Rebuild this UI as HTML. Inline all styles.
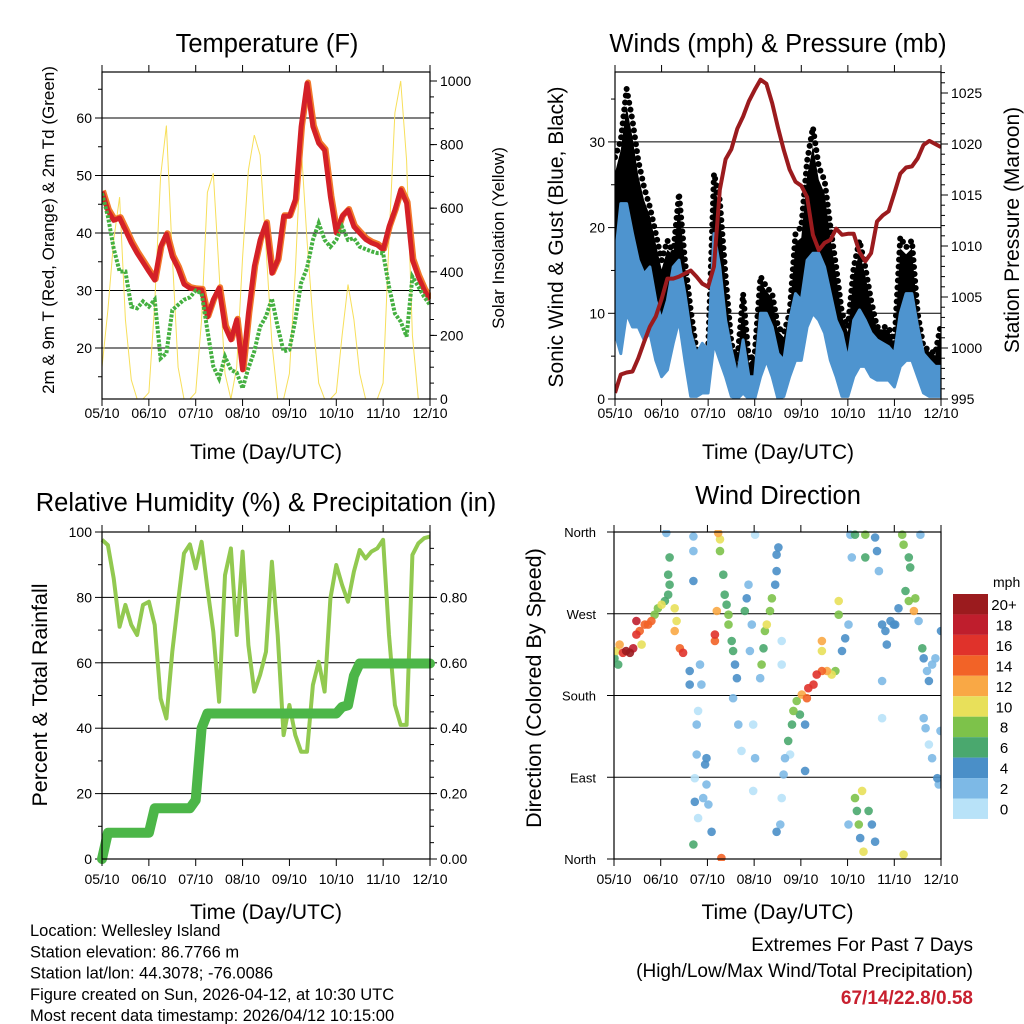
<!DOCTYPE html>
<html><head><meta charset="utf-8">
<style>
html,body{margin:0;padding:0;background:#fff;}
svg{display:block;font-family:"Liberation Sans",Arial,sans-serif;}
</style></head>
<body>
<svg id="c" width="1024" height="1024" viewBox="0 0 1024 1024" xmlns="http://www.w3.org/2000/svg"></svg>
<script>
// ---------- DATA (3-hour samples, 0.125 day step, day 0 = 05/10) ----------
const dayTicks = ["05/10","06/10","07/10","08/10","09/10","10/10","11/10","12/10"];
const tempRed = [47.2,43.9,42.2,42.6,40.5,38.3,36.5,34.9,33.3,31.8,37.6,39.8,35.9,33.9,31.1,30.4,30.2,30.1,25.4,28.4,30.4,23.7,21.4,24.9,16.2,26.0,34.2,38.8,41.7,33.0,35.3,42.9,42.9,45.8,58.5,66.0,58.5,55.6,54.4,46.3,40.0,42.9,44.0,41.1,40.0,38.9,38.3,37.9,37.1,41.1,44.0,47.5,45.2,35.3,32.4,30.1,28.4];
const dewGreen = [46.9,42.9,37.3,33.3,33.3,27.2,26.9,28.1,27.2,28.4,18.2,19.1,26.6,27.5,28.4,28.8,30.0,29.5,23.1,16.8,14.7,18.5,16.2,15.7,13.0,16.5,19.4,23.7,25.5,28.6,23.7,19.4,19.7,24.9,31.3,33.9,38.8,41.7,38.8,37.6,38.8,41.1,38.8,39.1,37.6,37.2,36.8,36.5,36.5,30.7,26.0,24.6,22.0,32.4,30.7,28.9,27.5];
const solar = [100,280,500,635,250,60,0,0, 20,300,700,860,450,100,0,0, 20,250,650,710,400,80,0,100, 446,720,830,767,477,176,0,0, 80,400,800,500,250,50,0,0, 20,200,360,250,80,0,0,0, 50,500,900,1000,750,200,0,0, 0];
const pressure = [995.6,997.4,997.6,997.7,999.0,1000.6,1002.1,1003.1,1004.8,1006.8,1006.8,1007.0,1007.3,1007.6,1007.0,1006.3,1006.0,1008.0,1015.5,1018.5,1019.5,1021.5,1022.7,1024.2,1025.3,1026.3,1025.9,1024.0,1021.6,1019.4,1017.5,1016.3,1015.9,1014.8,1011.1,1009.6,1010.3,1010.6,1011.7,1011.1,1011.2,1011.2,1009.4,1008.5,1009.3,1012.4,1013.0,1013.4,1015.2,1017.1,1017.7,1017.8,1018.6,1019.9,1020.3,1020.0,1019.7];
const windHi = [16.2,22.8,22.8,19.3,16.2,14.6,15.4,11.5,9.2,11.5,15.4,16.2,12.3,7.7,5.3,6.5,5.7,19.3,15.4,9.2,5.7,2.6,6.9,2.6,2.6,10,10,8.4,5.3,4.5,9.2,12.3,11.5,16.2,17,17,15.4,12.3,9.2,7.7,4.5,9.2,10.4,9.2,7.7,6.9,6.5,6.1,5.3,10,12.3,12.3,8.4,5.3,4.5,3.8,3.8];
const windLo = [7.7,5.3,10,8.4,8.4,6.9,7.7,4.5,2.6,3.4,6.5,9.2,4.5,0.3,0.3,0.7,0.7,6.5,4.5,2.6,0.3,0,0.7,0,0,2.6,4.5,2.6,0,0.3,2.6,4.5,4.5,8.4,10,9.2,7.7,4.5,2.6,0.3,0.3,2.6,3.8,3.8,2.6,2.2,2.2,2.2,1.4,3.8,4.5,4.5,2.6,0.7,0.3,0.3,0.3];
const gustHi = [28.2,30.2,36.2,32.5,27.8,24.7,22.4,19.3,16.2,18.5,17.0,24.0,16.2,10.4,5.7,5.3,5.7,26.3,23.2,14.3,6.5,4.5,12.3,4.5,5.3,14.3,13.1,12.3,8.4,7.7,10,19.3,20.1,27.8,31.7,27.1,25.5,20.1,15.4,10,8.4,15.4,18.5,15.4,11.5,8.4,8.4,8.4,6.5,18.9,17.7,18.5,10,6.1,5.7,5.3,8.8];
const rh = [97.6,96.0,85.8,71.0,77.7,71.6,68.5,77.7,78.7,71.6,49.1,43.0,63.4,78.7,93.5,96.2,88.9,97.0,82.8,69.5,48.1,86.8,95.0,68.5,94.0,65.4,51.2,56.3,63.4,90.9,68.5,37.9,47.1,37.9,32.8,32.8,53.2,60.3,51.2,79.7,89.9,83.8,78.7,87.9,94.5,91.9,94.0,95.0,97.6,68.5,47.1,41.0,41.0,93.0,96.5,98.1,98.6];
const precip = [0,0.08,0.08,0.08,0.08,0.08,0.08,0.08,0.08,0.155,0.155,0.155,0.155,0.155,0.155,0.155,0.18,0.40,0.445,0.445,0.445,0.445,0.445,0.445,0.445,0.445,0.445,0.445,0.445,0.445,0.445,0.445,0.445,0.445,0.445,0.445,0.445,0.445,0.445,0.445,0.445,0.465,0.47,0.56,0.598,0.598,0.598,0.598,0.598,0.598,0.598,0.598,0.598,0.598,0.598,0.598,0.598];
// wind direction obs: day, degrees, speed (mph)
const dirDays = [0.01,0.05,0.12,0.19,0.26,0.34,0.41,0.48,0.55,0.59,0.66,0.73,0.80,0.48,0.09, 0.87,0.94,1.02,1.09,1.16,1.19,1.16,1.19,1.30,1.34,1.30,1.41,1.48,1.12,1.70,1.70,1.70,
 1.62,1.62,1.84,1.87,1.80,1.77,1.77,1.73,1.73,1.70,1.95,1.98,2.02,2.09,1.98,1.91,1.80,
 2.23,2.27,2.27,2.34,2.37,2.45,2.45,2.52,2.55,2.59,2.63,2.55,2.16,2.16,2.20,2.30,2.41,
 2.80,2.84,2.88,2.95,2.91,3.02,2.98,3.02,2.98,2.73,2.66,
 3.16,3.20,3.23,3.27,3.34,3.38,3.45,3.48,3.48,3.52,3.13,3.59,3.59,3.56,3.48,
 3.59,3.63,3.66,3.73,3.81,3.84,3.91,4.02,4.13,4.16,4.27,4.34,4.45,4.56,4.66,4.74,3.77,4.09,4.09,3.98,4.45,4.45,4.81,4.81,4.88,4.95,5.02,
 5.06,5.09,5.16,5.38,5.59,5.63,5.67,5.74,5.81,5.92,5.99,5.84,5.74,5.74,5.38,
 5.16,5.20,5.24,5.27,5.34,5.45,5.52,5.59,5.02,5.31,
 6.17,6.20,6.31,6.34,6.24,6.31,6.45,6.42,6.52,6.09,6.02,6.20,6.56,
 6.60,6.63,6.70,6.74,6.81,6.88,6.67,6.74,6.81,6.92,6.95,6.99,7.0,6.63];
const dirDeg = [221,229,236,227,229,227,232,247,251,236,258,258,262,262,214, 269,276,280,284,291,302,313,332,276,262,251,232,227,359,355,339,306,
 207,192,214,192,163,148,115,89,63,16,104,82,60,30,111,67,45,
 359,352,339,313,291,269,258,240,229,214,199,177,247,240,273,1,280,
 273,287,302,258,229,357,148,111,75,119,148,
 214,232,251,258,273,287,302,317,335,343,199,240,214,38,30,
 67,93,111,130,148,163,174,181,177,188,192,203,207,207,203,207,115,148,97,159,229,240,269,284,229,243,258,
 357,332,357,357,354,339,317,258,251,262,258,236,196,155,332,
 67,53,38,23,8,53,38,19,38,75,
 357,346,332,321,295,284,287,273,262,276,258,5,357,
 232,221,207,196,214,221,144,126,111,89,82,141,251,155];
const dirSpeed = [6,10,12,16,20,20,18,16,14,10,14,14,14,18,6, 8,8,10,6,6,6,6,6,10,10,12,14,16,2,2,2,4,
 4,4,2,2,0,2,2,0,4,6,4,2,2,4,4,2,0,
 12,10,8,6,6,8,8,6,6,4,4,2,16,14,12,14,6,
 6,4,2,2,2,0,0,2,0,0,2,
 8,6,8,10,8,8,4,4,4,4,2,0,0,2,4,
 0,2,2,6,6,8,8,12,14,16,16,16,14,12,10,8,0,4,4,6,10,12,8,10,4,4,2,
 2,2,6,8,4,4,2,4,4,4,4,4,2,0,6,
 8,6,8,4,10,6,4,4,2,10,
 8,8,6,6,6,8,8,12,2,4,4,10,2,
 6,4,2,4,2,2,2,0,2,4,2,2,4,2];
const speedLabels = ["20+","18","16","14","12","10","8","6","4","2","0"];
const speedColors = ["#9b1b1e","#bf1e2d","#e0322b","#f26327","#f9a845","#e8e05a","#7dc24a","#4aa86e","#4a8fc8","#7db9e6","#b8e2f8"];

// ---------- helpers ----------
const NS="http://www.w3.org/2000/svg";
const svg=document.getElementById('c');
function mk(tag,attrs,parent){const e=document.createElementNS(NS,tag);for(const k in attrs)e.setAttribute(k,attrs[k]);(parent||svg).appendChild(e);return e;}
function txt(s,x,y,size,anchor,parent,extra){const e=mk('text',Object.assign({x:x,y:y,'font-size':size,'text-anchor':anchor||'middle',fill:'#000'},extra||{}),parent);e.textContent=s;return e;}
function lin(a,b,c,d){return (v)=>c+(v-a)*(d-c)/(b-a);}
const STEP=0.125;

function panel(name,L,R,T,B){
  const g=mk('g',{});
  
  
  return {g,L,R,T,B,x:lin(0,7,L,R)};
}
function frame(p){
  const r=mk('rect',{x:p.L,y:p.T,width:p.R-p.L,height:p.B-p.T,fill:'none',stroke:'#000','stroke-width':1.2},p.g);
  
  
}
function xAxis(p,labY,titleY){
  const g=mk('g',{},p.g);
  
  
  dayTicks.forEach((t,i)=>{
    const x=p.x(i);
    mk('line',{x1:x,x2:x,y1:p.B,y2:p.B+7,stroke:'#000','stroke-width':1},g);
    mk('line',{x1:x,x2:x,y1:p.T,y2:p.T-7,stroke:'#000','stroke-width':1},g);
    const l=txt(t,x,labY,14,'middle',g);
    
    
  });
  const tt=txt('Time (Day/UTC)',(p.L+p.R)/2,titleY,21,'middle',g);
  
  
}
function yTicks(p,side,scale,vals,labels,minor,size,grid,off){
  const g=mk('g',{},p.g);
  
  
  const x0= side==='left'?p.L:p.R, dir= side==='left'?-1:1;
  minor.forEach(v=>{const y=scale(v);mk('line',{x1:x0,x2:x0+dir*4,y1:y,y2:y,stroke:'#000','stroke-width':1},g);});
  vals.forEach((v,i)=>{
    const y=scale(v);
    mk('line',{x1:x0,x2:x0+dir*7,y1:y,y2:y,stroke:'#000','stroke-width':1},g);
    if(grid && v>grid[0] && v<grid[1]) mk('line',{x1:p.L,x2:p.R,y1:y,y2:y,stroke:'#000','stroke-width':1},g);
    const l=txt(labels[i],x0+dir*(off||10),y+5,size||14,side==='left'?'end':'start',g);
    
    
  });
}
function vtitle(s,x,y,size,parent,name){
  const e=txt(s,x,y,size,'middle',parent,{transform:`rotate(-90 ${x} ${y})`});
  
  
}
function title(s,x,y,parent){
  const e=txt(s,x,y,25.5,'middle',parent);
  
  
}
function seriesPath(p,arr,yS){return arr.map((v,i)=>(i?'L':'M')+p.x(i*STEP).toFixed(1)+','+yS(v).toFixed(1)).join(' ');}
function seq(a,b,s){const r=[];for(let v=a;v<=b+1e-9;v+=s)r.push(+v.toFixed(3));return r;}

// ---------- Panel 1: Temperature ----------
{
const p=panel('temperature-panel',102,430,72,399);
const yT=lin(20,60,348,118), yS=lin(0,1000,399,81);
const clip=mk('clipPath',{id:'cp1'},p.g);mk('rect',{x:p.L,y:p.T,width:p.R-p.L,height:p.B-p.T},clip);
yTicks(p,'left',yT,[20,30,40,50,60],['20','30','40','50','60'],[15,25,35,45,55,65],14,[11,68]);
yTicks(p,'right',yS,[0,200,400,600,800,1000],['0','200','400','600','800','1000'],seq(50,1000,50),14);
const sp=mk('path',{d:seriesPath(p,solar,yS),fill:'none',stroke:'#f7df5a','stroke-width':1,'clip-path':'url(#cp1)'},p.g);


const op=mk('path',{d:seriesPath(p,tempRed,yT),fill:'none',stroke:'#f2782b','stroke-width':6,'stroke-linejoin':'round',transform:'translate(1,-1)','clip-path':'url(#cp1)'},p.g);


const rp=mk('path',{d:seriesPath(p,tempRed,yT),fill:'none',stroke:'#d42027','stroke-width':5,'stroke-linejoin':'round','clip-path':'url(#cp1)'},p.g);


const gp=mk('path',{d:seriesPath(p,dewGreen,yT),fill:'none',stroke:'#45b041','stroke-width':4,'stroke-dasharray':'3 1.5','clip-path':'url(#cp1)'},p.g);


frame(p);xAxis(p,418,459);
title('Temperature (F)',267,52,p.g);
vtitle('2m & 9m T (Red, Orange) & 2m Td (Green)',54,230,17,p.g,'left-y-axis-title');
vtitle('Solar Insolation (Yellow)',504,238,17,p.g,'right-y-axis-title');
}

// ---------- Panel 2: Winds & Pressure ----------
{
const p=panel('winds-pressure-panel',615,941,72,399);
const yW=lin(0,10,399,313.3), yP=lin(995,1020,399,144);
const clip=mk('clipPath',{id:'cp2'},p.g);mk('rect',{x:p.L,y:p.T,width:p.R-p.L,height:p.B-p.T},clip);
yTicks(p,'left',yW,[0,10,20,30],['0','10','20','30'],[5,15,25,35],14,[0.5,38]);
yTicks(p,'right',yP,[995,1000,1005,1010,1015,1020,1025],['995','1000','1005','1010','1015','1020','1025'],seq(996,1027,1),14);
function band(hi,lo){
  let d=hi.map((v,i)=>(i?'L':'M')+p.x(i*STEP).toFixed(1)+','+yW(v).toFixed(1)).join(' ');
  for(let i=lo.length-1;i>=0;i--) d+=' L'+p.x(i*STEP).toFixed(1)+','+yW(lo[i]).toFixed(1);
  return d+'Z';
}
const gb=mk('path',{d:band(gustHi.map((v,i)=>v-0.15*(v-windHi[i])),windLo.map((v,i)=>(v+windHi[i])/2)),fill:'#000','clip-path':'url(#cp2)'},p.g);


const gd=mk('path',{d:seriesPath(p,gustHi,yW),fill:'none',stroke:'#000','stroke-width':6,'stroke-linecap':'round','stroke-dasharray':'0 7','clip-path':'url(#cp2)'},p.g);


const wb=mk('path',{d:band(windHi,windLo),fill:'#4e94cf',stroke:'#4e94cf','stroke-width':3,'stroke-linejoin':'round','clip-path':'url(#cp2)'},p.g);


const pp=mk('path',{d:seriesPath(p,pressure,yP),fill:'none',stroke:'#9b1b1e','stroke-width':4,'stroke-linejoin':'round','clip-path':'url(#cp2)'},p.g);


frame(p);xAxis(p,418,459);
title('Winds (mph) & Pressure (mb)',778,52,p.g);
vtitle('Sonic Wind & Gust (Blue, Black)',563,237,21,p.g,'left-y-axis-title');
vtitle('Station Pressure (Maroon)',1019,230,21,p.g,'right-y-axis-title');
}

// ---------- Panel 3: RH & Precip ----------
{
const p=panel('humidity-precip-panel',102,430,532,859);
const yR=lin(0,100,859,532), yPr=lin(0,1,859,532);
const clip=mk('clipPath',{id:'cp3'},p.g);mk('rect',{x:p.L-6,y:p.T,width:p.R-p.L+12,height:p.B-p.T+6},clip);
yTicks(p,'left',yR,[0,20,40,60,80,100],['0','20','40','60','80','100'],[10,30,50,70,90],14,[1,99]);
yTicks(p,'right',yPr,[0,0.2,0.4,0.6,0.8],['0.00','0.20','0.40','0.60','0.80'],seq(0.05,0.95,0.05),14);
const rp=mk('path',{d:seriesPath(p,rh,yR),fill:'none',stroke:'#92c950','stroke-width':4,'stroke-linejoin':'round','clip-path':'url(#cp3)'},p.g);


const pr=mk('path',{d:seriesPath(p,precip,yPr),fill:'none',stroke:'#4cb648','stroke-width':10,'stroke-linejoin':'round','stroke-linecap':'round','clip-path':'url(#cp3)'},p.g);


frame(p);xAxis(p,884,919);
title('Relative Humidity (%) & Precipitation (in)',266,511,p.g);
vtitle('Percent & Total Rainfall',47,695,21.5,p.g,'left-y-axis-title');
}

// ---------- Panel 4: Wind Direction ----------
{
const p=panel('wind-direction-panel',614,941,532,859);
const yD=lin(0,360,859,532);
const clip=mk('clipPath',{id:'cp4'},p.g);mk('rect',{x:p.L,y:p.T-2,width:p.R-p.L,height:p.B-p.T+4},clip);
yTicks(p,'left',yD,[0,90,180,270,360],['North','East','South','West','North'],[],13,[1,359],18);
const dg=mk('g',{'clip-path':'url(#cp4)'},p.g);


const order=dirDays.map((_,i)=>i).sort((a,b)=>dirSpeed[a]-dirSpeed[b]);
order.forEach(i=>{
  const s=dirSpeed[i];
  const ci=Math.max(0,Math.min(10,10-Math.round(s/2)));
  const c=mk('circle',{cx:p.x(dirDays[i]).toFixed(1),cy:yD(dirDeg[i]).toFixed(1),r:4.3,fill:speedColors[ci],'fill-opacity':0.9},dg);
  
  
});
frame(p);xAxis(p,884,919);
title('Wind Direction',778,504,p.g);
vtitle('Direction (Colored By Speed)',541,688,21.5,p.g,'left-y-axis-title');
// colorbar
const cb=mk('g',{},p.g);


const u=txt('mph',993,587,14,'start',cb);


speedLabels.forEach((l,i)=>{
  const y=594+i*20.45;
  const r=mk('rect',{x:953,y:y,width:35,height:20.45,fill:speedColors[i]},cb);
  
  
  const t=txt(l,1004,y+16,15,'middle',cb);
  
  
});
}

// ---------- footer text ----------
const info=["Location: Wellesley Island","Station elevation: 86.7766 m","Station lat/lon: 44.3078; -76.0086","Figure created on Sun, 2026-04-12, at 10:30 UTC","Most recent data timestamp: 2026/04/12 10:15:00"];
info.forEach((s,i)=>{const t=txt(s,30,936+i*21.3,16.5,'start');
  
  });
const e1=txt('Extremes For Past 7 Days',973,951,19,'end');


const e2=txt('(High/Low/Max Wind/Total Precipitation)',973,977,19,'end');


const e3=txt('67/14/22.8/0.58',973,1004,19,'end',null,{fill:'#c8202f','font-weight':'bold'});


</script>
</body></html>
